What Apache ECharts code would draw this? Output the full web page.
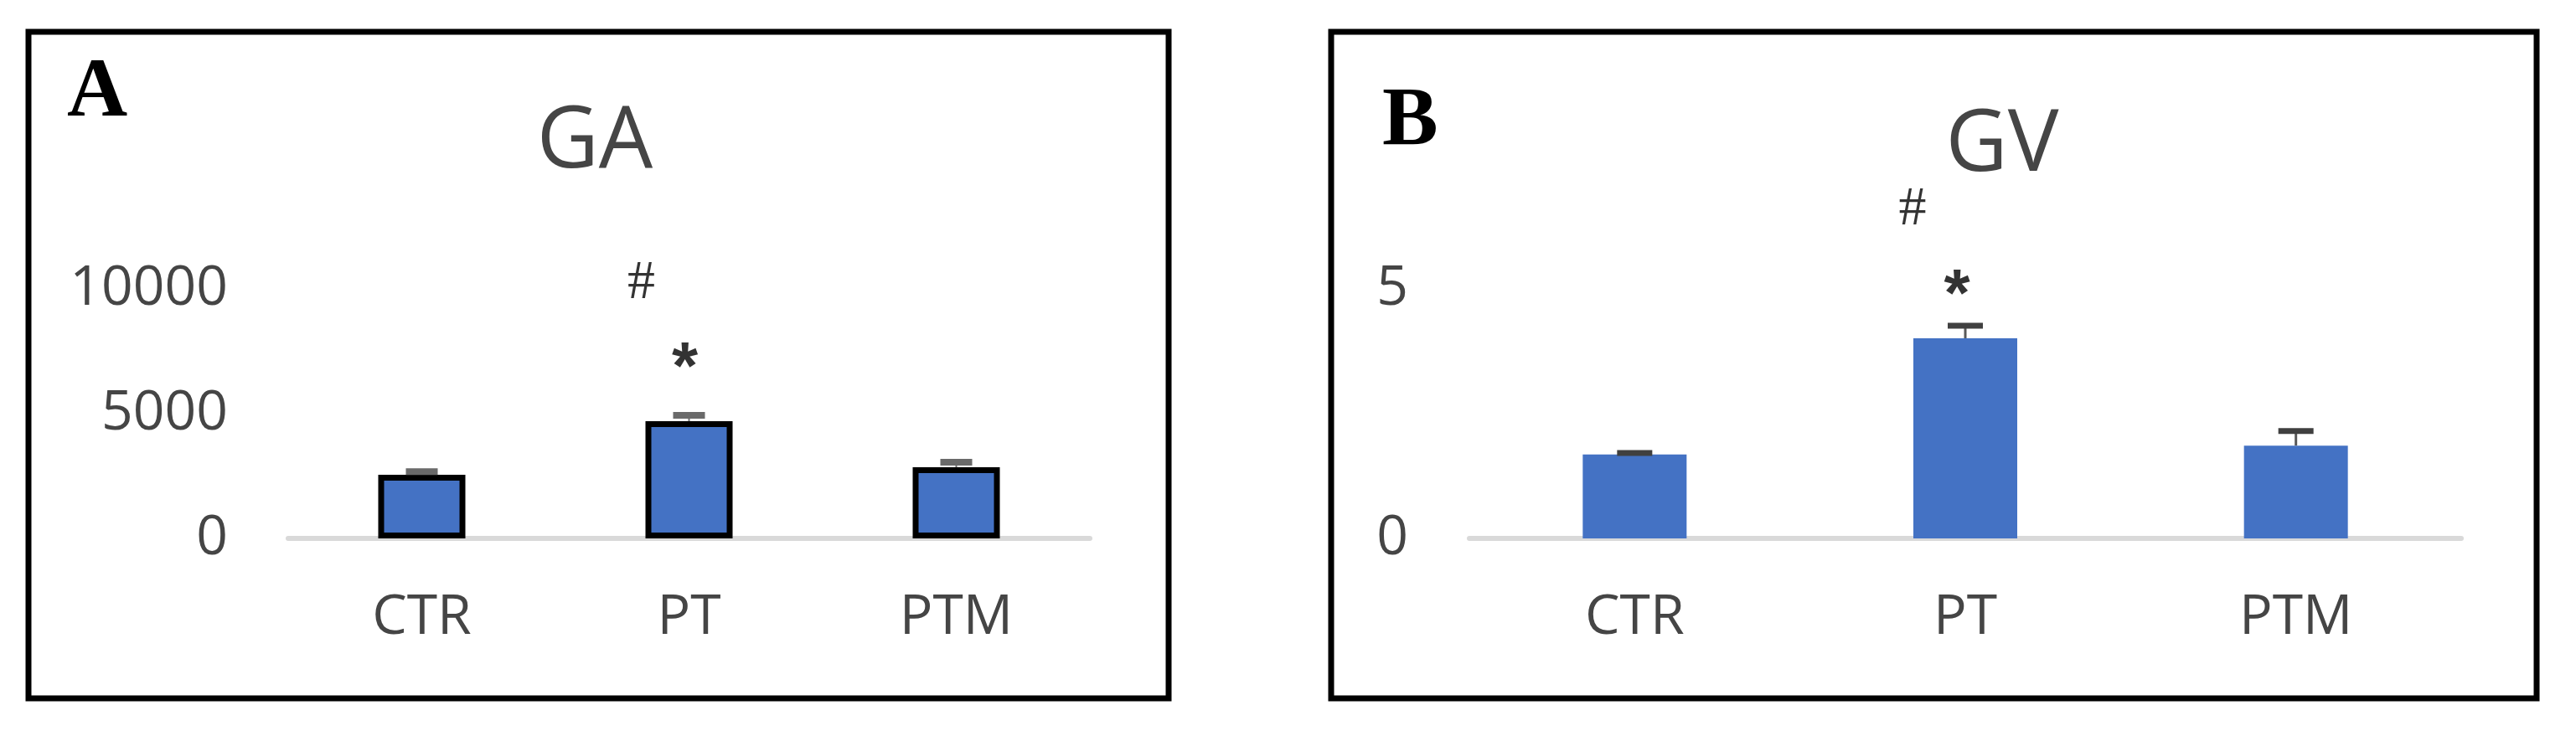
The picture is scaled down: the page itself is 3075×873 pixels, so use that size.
<!DOCTYPE html>
<html>
<head>
<meta charset="utf-8">
<script src="https://cdn.jsdelivr.net/npm/echarts@6/dist/echarts.min.js"></script>
<style>
html,body{margin:0;padding:0;background:#ffffff;}
#chart{width:3075px;height:873px;}
</style>
</head>
<body>
<div id="chart"></div>
<script>
// ---- data ----
const categories = ['CTR', 'PT', 'PTM'];
const gaMean = [2550, 4700, 2850];
const gaErr = [130, 235, 200];
const gvMean = [1.68, 4.01, 1.86];
const gvErr = [0.03, 0.25, 0.29];
const gaTicks = [0, 5000, 10000];
const gvTicks = [0, 5];
const gaTitle = 'GA';
const gvTitle = 'GV';
const panelLetters = ['A', 'B'];
// significance marks: [category, value on the axis, symbol]
const gaSig = [['PT', 10200, '#'], ['PT', 6745, '*']];
const gvSig = [['PT', 6.59, '#'], ['PT', 4.83, '*']];

// ---- styles ----
const BLUE = '#4472C4';
const TXT = '#454545';
const LABEL_FONT = 'Open Sans';
const sigStyle = {
  A: {'#': {dx: -57}, '*': {dx: -5}},
  B: {'#': {dx: -63}, '*': {dx: -10}}
};

function errRender(capW, capH, capColor, stemW, stemColor) {
  return function (params, api) {
    const i = api.value(0), m = api.value(1), e = api.value(2);
    const b = api.coord([i, m]);
    const t = api.coord([i, m + e]);
    return {
      type: 'group',
      children: [
        {type: 'line', shape: {x1: b[0], y1: b[1], x2: t[0], y2: t[1]},
         style: {stroke: stemColor, lineWidth: stemW}},
        {type: 'line', shape: {x1: t[0] - capW / 2, y1: t[1], x2: t[0] + capW / 2, y2: t[1]},
         style: {stroke: capColor, lineWidth: capH}}
      ]
    };
  };
}

function sigSeries(gridIdx, sig, key) {
  return {
    type: 'scatter',
    xAxisIndex: gridIdx, yAxisIndex: gridIdx,
    clip: false, silent: true,
    symbolSize: 1,
    itemStyle: {color: 'rgba(0,0,0,0)'},
    z: 20,
    data: sig.map(s => ({
      value: [s[0], s[1]],
      label: {
        show: true, position: 'inside', formatter: s[2],
        offset: [sigStyle[key][s[2]].dx, 0],
        color: '#000',
        fontFamily: s[2] === '#' ? 'Liberation Serif' : 'Liberation Sans',
        fontWeight: s[2] === '#' ? 'normal' : 'bold',
        fontSize: s[2] === '#' ? 66 : 80
      }
    }))
  };
}

function yAxis(gridIdx, ticks, margin) {
  return {
    type: 'value', gridIndex: gridIdx,
    min: ticks[0], max: ticks[ticks.length - 1], interval: ticks[1] - ticks[0],
    axisLine: {show: false}, axisTick: {show: false}, splitLine: {show: false},
    axisLabel: {color: TXT, fontFamily: LABEL_FONT, fontSize: 66, margin: margin,
                formatter: v => String(v)}
  };
}

function xAxis(gridIdx) {
  return {
    type: 'category', gridIndex: gridIdx, data: categories,
    axisLine: {show: true, lineStyle: {color: '#D9D9D9', width: 6}},
    axisTick: {show: false},
    axisLabel: {color: TXT, fontFamily: LABEL_FONT, fontSize: 66, lineHeight: 66, margin: 62}
  };
}

const chart = echarts.init(document.getElementById('chart'), null, {renderer: 'canvas'});
chart.setOption({
  backgroundColor: '#ffffff',
  animation: false,
  grid: [
    {left: 344, top: 345, width: 957, height: 298},
    {left: 1754, top: 345, width: 1184, height: 298}
  ],
  xAxis: [xAxis(0), xAxis(1)],
  yAxis: [yAxis(0, gaTicks, 72), yAxis(1, gvTicks, 73)],
  graphic: [
    {type: 'rect', shape: {x: 34, y: 38, width: 1361, height: 796},
     style: {fill: 'none', stroke: '#000', lineWidth: 7}, z: 100},
    {type: 'rect', shape: {x: 1589, y: 38, width: 1439, height: 796},
     style: {fill: 'none', stroke: '#000', lineWidth: 7}, z: 100},
    {type: 'text', x: 80, y: 112,
     style: {text: panelLetters[0], font: 'bold 100px "Liberation Serif"', fill: '#000',
             align: 'left', verticalAlign: 'middle'}},
    {type: 'text', x: 1650, y: 146,
     style: {text: panelLetters[1], font: 'bold 100px "Liberation Serif"', fill: '#000',
             align: 'left', verticalAlign: 'middle'}},
    {type: 'text', x: 710, y: 171,
     style: {text: gaTitle, font: '102px "Open Sans"', fill: TXT,
             align: 'center', verticalAlign: 'middle'}},
    {type: 'text', x: 2390, y: 175,
     style: {text: gvTitle, font: '102px "Open Sans"', fill: TXT,
             align: 'center', verticalAlign: 'middle'}}
  ],
  series: [
    {type: 'bar', xAxisIndex: 0, yAxisIndex: 0, data: gaMean, barWidth: 104,
     itemStyle: {color: BLUE, borderColor: '#000', borderWidth: 7}, z: 2},
    {type: 'custom', xAxisIndex: 0, yAxisIndex: 0, z: 5,
     renderItem: errRender(38, 8, '#6a6a6a', 2, '#6a6a6a'),
     data: gaMean.map((m, i) => [i, m, gaErr[i]])},
    {type: 'bar', xAxisIndex: 1, yAxisIndex: 1, data: gvMean, barWidth: 124,
     itemStyle: {color: BLUE}, z: 2},
    {type: 'custom', xAxisIndex: 1, yAxisIndex: 1, z: 5,
     renderItem: errRender(42, 7, '#404040', 3, '#595959'),
     data: gvMean.map((m, i) => [i, m, gvErr[i]])},
    sigSeries(0, gaSig, 'A'),
    sigSeries(1, gvSig, 'B')
  ]
});
</script>
</body>
</html>
